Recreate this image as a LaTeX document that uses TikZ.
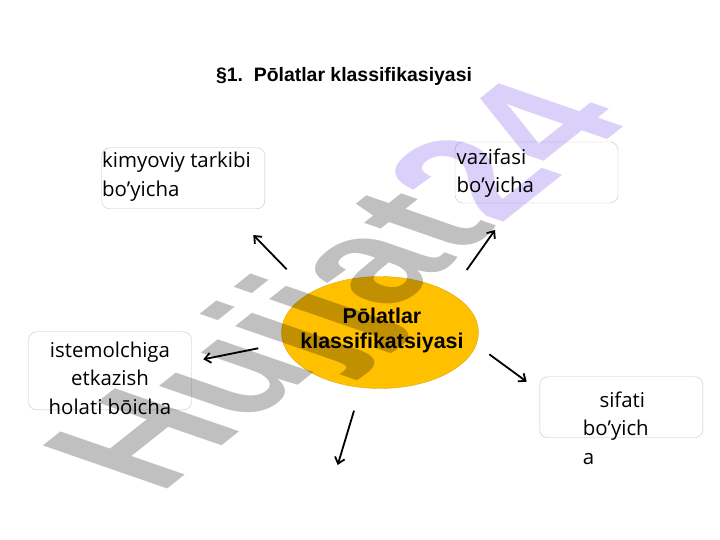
\documentclass[tikz,border=0pt]{standalone}
\usepackage{fontspec}
\setmainfont{Open Sans}
\newfontfamily\boldsans{Liberation Sans}[BoldFont={Liberation Sans Bold}]
\usetikzlibrary{positioning,shapes.geometric,arrows.meta}

\definecolor{boxgray}{RGB}{196,196,196}
\definecolor{amber}{RGB}{255,192,0}
\definecolor{amberedge}{RGB}{222,166,20}
\definecolor{wmgray}{RGB}{192,192,192}
\definecolor{wmlilac}{RGB}{218,208,250}

\begin{document}
\begin{tikzpicture}[x=1bp, y=-1bp,
        turi_box/.style={draw=boxgray, rounded corners=8bp, thin, minimum width=163bp, minimum height=61bp, inner sep=0pt},
        turi_text/.style={font=\fontsize{20.5}{28.5}\selectfont, inner sep=0pt},
        markaz_node/.style={ellipse, draw=amberedge, fill=amber, minimum width=197bp, minimum height=112bp, inner sep=0pt},
        strelka/.style={line width=1.8bp, -{Straight Barb[length=6bp, width=10bp]}}
        ]
            \useasboundingbox (0,0) rectangle (720,540);

            % title
            \node[font=\boldsans\bfseries\fontsize{19.5}{22}\selectfont, anchor=base, inner sep=0pt] (title) at (344,82) {§1.\ \ Pōlatlar klassifikasiyasi};

            % centre
            \node[markaz_node] (markaz) at (380,332.5) {};
            \node[font=\boldsans\bfseries\fontsize{21.5}{25}\selectfont, align=center, anchor=north, inner sep=0pt] (markaz_t) at (382,308) {Pōlatlar\\klassifikatsiyasi};

            % boxes
            \node[turi_box]    (kimyo)    at (183.3,178.3)    {};
            \node[turi_box]    (vazifa)   at (536.5,172.5)    {};
            \node[turi_box, minimum height=78bp]    (istemol)  at (110,370.8)  {};
            \node[turi_box]    (sifat)    at (621.3,407.2)    {};

            % box texts
            \node[turi_text, align=left, anchor=north west]   (kimyo_t)   at (102,152)   {kimyoviy tarkibi\\bo’yicha};
            \node[turi_text, align=left, anchor=north west]   (vazifa_t)  at (456.5,148.2) {vazifasi\\bo’yicha};
            \node[turi_text, align=center, anchor=north]      (istemol_t) at (110,341.6) {istemolchiga\\etkazish\\holati bōicha};
            \node[turi_text, align=left, anchor=north west]   (sifat_t)   at (582.7,391.6) {\hspace*{16.6bp}sifati\\bo’yich\\a};

            % arrow ends
            \coordinate (kimyo_s)    at (286.7,269.3);
            \coordinate (kimyo_e)    at (253.3,235);
            \coordinate (vazifa_s)   at (466.7,270);
            \coordinate (vazifa_e)   at (495,230);
            \coordinate (istemol_s)  at (258.3,348.3);
            \coordinate (istemol_e)  at (203.3,359.3);
            \coordinate (sifat_s)    at (489.3,354.3);
            \coordinate (sifat_e)    at (526.7,381.7);
            \coordinate (pastki_s)   at (354,410.7);
            \coordinate (pastki_e)   at (337.7,465);

            % arrows
            \draw[strelka] (kimyo_s) -- (kimyo_e);
            \draw[strelka] (vazifa_s) -- (vazifa_e);
            \draw[strelka] (istemol_s) -- (istemol_e);
            \draw[strelka] (sifat_s) -- (sifat_e);
            \draw[strelka] (pastki_s) -- (pastki_e);

            % watermark (slanted)
            \begin{scope}[blend mode=multiply, cm={0.69,0.549,-1.02,0.353,(159.3,496.1)}]
                \node[font=\boldsans\bfseries\fontsize{178}{180}\selectfont, text=wmgray, inner sep=0pt, anchor=base west, transform shape] (belgi) at (0,0) {Hujjat\textcolor{wmlilac}{24}};
            \end{scope}
        \end{tikzpicture}
\end{document}
